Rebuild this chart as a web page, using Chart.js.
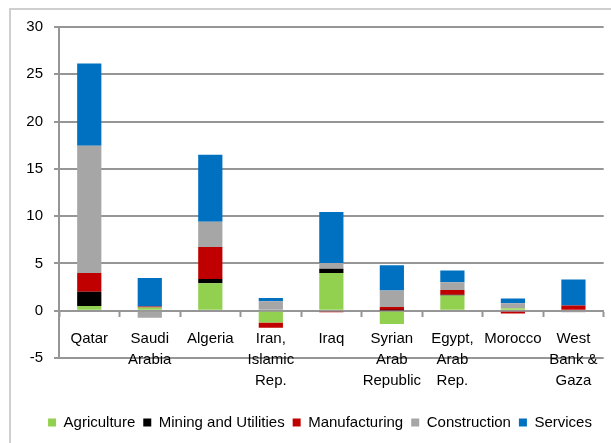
<!DOCTYPE html>
<html>
<head>
<meta charset="utf-8">
<title>Growth contributions by sector</title>
<script src="https://cdn.jsdelivr.net/npm/chart.js@4.4.1/dist/chart.umd.min.js"></script>
<style>
  html, body { margin: 0; padding: 0; background: #ffffff; }
  #wrap { width: 611px; height: 443px; position: relative; }
</style>
</head>
<body>
<div id="wrap"><canvas id="chart"></canvas></div>
<script>
// Categories (multi-line labels)
const categories = [
  'Qatar',
  ['Saudi', 'Arabia'],
  'Algeria',
  ['Iran,', 'Islamic', 'Rep.'],
  'Iraq',
  ['Syrian', 'Arab', 'Republic'],
  ['Egypt,', 'Arab', 'Rep.'],
  'Morocco',
  ['West', 'Bank &', 'Gaza']
];

// Sector contributions, one value per country
const agriculture   = [0.5,  0.35, 2.9,  -1.25, 4.0,  -1.4, 1.6, 0.25, 0.0];
const mining        = [1.5,  0.0,  0.45,  0.0,  0.45,  0.05, 0.1, 0.0,  0.0];
const manufacturing = [2.0,  0.1,  3.4,  -0.55, -0.15, 0.35, 0.5, -0.3, 0.55];
const construction  = [13.45, -0.75, 2.65, 1.0,  0.6,  1.75, 0.8, 0.55, -0.15];
const services      = [8.7,  3.0,  7.1,   0.35, 5.4,  2.65, 1.25, 0.5, 2.75];

// Value axis ticks
const yTicks = [-5, 0, 5, 10, 15, 20, 25, 30];

const FONT = "'Liberation Sans', Arial, Helvetica, sans-serif";

// White background plus the light outer frame
const framePlugin = {
  id: 'frame',
  beforeDraw(chart) {
    const ctx = chart.ctx;
    ctx.save();
    ctx.fillStyle = '#ffffff';
    ctx.fillRect(0, 0, chart.width, chart.height);
    ctx.strokeStyle = '#cfcfcf';
    ctx.lineWidth = 2;
    ctx.strokeRect(10, 9, chart.width + 20, chart.height + 20);
    ctx.restore();
  },
  // centre the legend under the plot area rather than the whole canvas
  afterLayout(chart) {
    if (chart.legend) {
      chart.legend.left += 18;
      chart.legend.right += 18;
    }
  }
};

const mk = (label, data, color) => ({
  label, data, backgroundColor: color, borderWidth: 0,
  barPercentage: 0.4, categoryPercentage: 1.0
});

new Chart(document.getElementById('chart'), {
  type: 'bar',
  data: {
    labels: categories,
    datasets: [
      mk('Agriculture', agriculture, '#92D050'),
      mk('Mining and Utilities', mining, '#000000'),
      mk('Manufacturing', manufacturing, '#C00000'),
      mk('Construction', construction, '#A6A6A6'),
      mk('Services', services, '#0070C0')
    ]
  },
  options: {
    responsive: true,
    maintainAspectRatio: false,
    animation: false,
    layout: { padding: { top: 27, left: 0, right: 7, bottom: 3 } },
    plugins: {
      tooltip: { enabled: false },
      legend: {
        position: 'bottom',
        title: { display: true, text: ' ', font: { size: 10, lineHeight: 1 }, padding: { top: 0, bottom: 39 } },
        labels: {
          boxWidth: 8, boxHeight: 8, padding: 8,
          color: '#000', font: { family: FONT, size: 15 }
        }
      }
    },
    scales: {
      x: {
        stacked: true,
        position: { y: 0 },
        grid: { drawOnChartArea: false, drawTicks: true, tickLength: 5, offset: true, tickColor: '#969696', tickWidth: 2 },
        border: { display: true, color: '#969696', width: 2 },
        ticks: {
          autoSkip: false, maxRotation: 0, minRotation: 0, padding: 13,
          color: '#000', font: { family: FONT, size: 15, lineHeight: 1.4 }
        }
      },
      y: {
        stacked: true,
        min: -5, max: 30,
        afterFit(scale) { scale.width = 59; },
        afterBuildTicks(scale) { scale.ticks = yTicks.map(v => ({ value: v })); },
        grid: { color: '#969696', lineWidth: 2, drawTicks: true, tickLength: 5, tickColor: '#969696' },
        border: { display: true, color: '#969696', width: 2 },
        ticks: { padding: 11, color: '#000', font: { family: FONT, size: 15 } }
      }
    }
  },
  plugins: [framePlugin]
});
</script>
</body>
</html>
